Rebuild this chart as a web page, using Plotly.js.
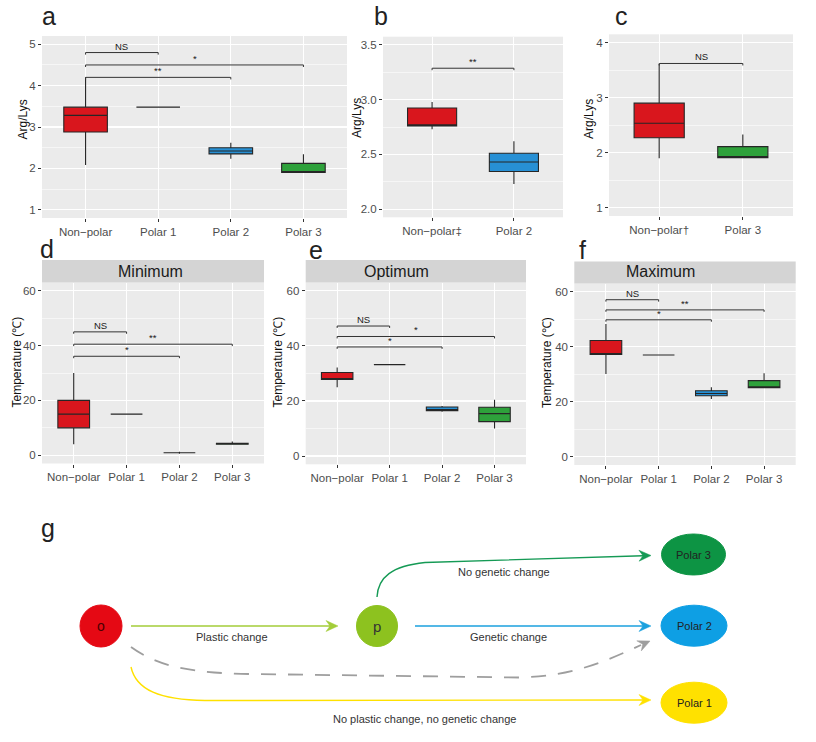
<!DOCTYPE html>
<html><head><meta charset="utf-8">
<script src="https://cdn.plot.ly/plotly-3.0.1.min.js"></script>
<style>html,body{margin:0;padding:0;background:#fff}#chart{width:816px;height:742px}</style>
</head><body><div id="chart"></div>
<script>
// ---------------- DATA ----------------
const catsA = ['Non\u2212polar','Polar 1','Polar 2','Polar 3'];
const catsB = ['Non\u2212polar\u2021','Polar 2'];
const catsC = ['Non\u2212polar\u2020','Polar 3'];
const catsT = ['Non\u2212polar','Polar 1','Polar 2','Polar 3'];
const groupsA = ['Non-polar','Polar 1','Polar 2','Polar 3'];
const groupsB = ['Non-polar','Polar 2'];
const groupsC = ['Non-polar','Polar 3'];

// a: Arg/Lys
const aQ1  = [2.88, 3.48, 2.35, 1.90];
const aMed = [3.28, 3.48, 2.42, 1.90];
const aQ3  = [3.48, 3.48, 2.50, 2.12];
const aLo  = [2.08, 3.48, 2.23, 1.90];
const aHi  = [4.20, 3.48, 2.62, 2.34];
// b
const bQ1  = [2.76, 2.343];
const bMed = [2.76, 2.43];
const bQ3  = [2.924, 2.51];
const bLo  = [2.73, 2.23];
const bHi  = [2.978, 2.62];
// c
const cQ1  = [2.27, 1.91];
const cMed = [2.535, 1.91];
const cQ3  = [2.90, 2.11];
const cLo  = [1.90, 1.91];
const cHi  = [3.61, 2.33];
// d: Minimum temperature
const dQ1  = [10, 15, 0.9, 4.0];
const dMed = [15, 15, 0.9, 4.1];
const dQ3  = [20, 15, 0.9, 4.4];
const dLo  = [4, 15, 0.6, 4.0];
const dHi  = [30, 15, 1.3, 5.0];
// e: Optimum temperature
const eQ1  = [27.8, 33.2, 16.5, 12.5];
const eMed = [28.0, 33.2, 16.8, 15.4];
const eQ3  = [30.3, 33.2, 17.8, 17.7];
const eLo  = [25.0, 33.2, 16.1, 10.0];
const eHi  = [32.1, 33.2, 18.2, 20.4];
// f: Maximum temperature
const fQ1  = [37.2, 37, 22.2, 25.1];
const fMed = [37.2, 37, 23.0, 25.1];
const fQ3  = [42.3, 37, 24.0, 27.7];
const fLo  = [30.1, 37, 21.0, 25.1];
const fHi  = [48.3, 37, 25.3, 30.4];

// significance brackets
const aSigFrom = [0,0,0], aSigTo = [1,3,2], aSigY = [4.80,4.50,4.20], aSigLab = ['NS','*','**'];
const bSigFrom = [0], bSigTo = [1], bSigY = [3.287], bSigLab = ['**'];
const cSigFrom = [0], cSigTo = [1], cSigY = [3.62], cSigLab = ['NS'];
const dSigFrom = [0,0,0], dSigTo = [1,3,2], dSigY = [45,40.5,36.1], dSigLab = ['NS','**','*'];
const eSigFrom = [0,0,0], eSigTo = [1,3,2], eSigY = [47.2,43.4,39.6], eSigLab = ['NS','*','*'];
const fSigFrom = [0,0,0], fSigTo = [1,3,2], fSigY = [57.1,53.4,49.8], fSigLab = ['NS','**','*'];

const stripLabels = ['Minimum','Optimum','Maximum'];
const yTitleArg = 'Arg/Lys';
const yTitleTemp = 'Temperature (\u2103)';

// diagram g
const nodeNames = ['o','p','Polar 3','Polar 2','Polar 1'];
const edgeLabels = ['Plastic change','Genetic change','No genetic change','No plastic change, no genetic change'];

// ---------------- STYLE ----------------
const groupFill = {'Non-polar':'#d9161d','Polar 1':'rgba(0,0,0,0)','Polar 2':'#2790d5','Polar 3':'#2ea13b'};
const FONT = 'Liberation Sans, Arial, sans-serif';
const W = 816, H = 742;
const px = v => v / W;
const py = v => 1 - v / H;

const traces = [];
const annotations = [];
const shapes = [];

// white cover for diagram area
shapes.push({type: 'rect', xref: 'paper', yref: 'paper', x0: 0, x1: 1, y0: 0, y1: py(498),
  fillcolor: '#ffffff', line: {width: 0}, layer: 'below'});

function addBoxes(ax, ay, groups, q1, med, q3, lo, hi) {
  groups.forEach((g, i) => {
    traces.push({
      type: 'box', xaxis: ax, yaxis: ay, x: [i],
      q1: [q1[i]], median: [med[i]], q3: [q3[i]], lowerfence: [lo[i]], upperfence: [hi[i]],
      fillcolor: groupFill[g], line: {color: '#262626', width: 1.1},
      whiskerwidth: 0, width: 0.6, boxpoints: false, showlegend: false, hoverinfo: 'skip'
    });
  });
}
function addSig(ax, ay, from, to, ys, labs, tip) {
  const xs = [], yv = [];
  from.forEach((f, i) => {
    xs.push(f, f, to[i], to[i], null);
    yv.push(ys[i] - tip, ys[i], ys[i], ys[i] - tip, null);
    annotations.push({xref: ax, yref: ay, x: (f + to[i]) / 2, y: ys[i], text: labs[i],
      showarrow: false, yanchor: 'bottom', yshift: -1,
      font: {family: FONT, size: 9.5, color: '#1a1a1a'}});
  });
  traces.push({type: 'scatter', mode: 'lines', xaxis: ax, yaxis: ay, x: xs, y: yv,
    line: {color: '#333', width: 1}, showlegend: false, hoverinfo: 'skip', connectgaps: false});
}

addBoxes('x', 'y', groupsA, aQ1, aMed, aQ3, aLo, aHi);
addBoxes('x2', 'y2', groupsB, bQ1, bMed, bQ3, bLo, bHi);
addBoxes('x3', 'y3', groupsC, cQ1, cMed, cQ3, cLo, cHi);
addBoxes('x4', 'y4', groupsA, dQ1, dMed, dQ3, dLo, dHi);
addBoxes('x5', 'y5', groupsA, eQ1, eMed, eQ3, eLo, eHi);
addBoxes('x6', 'y6', groupsA, fQ1, fMed, fQ3, fLo, fHi);
addSig('x', 'y', aSigFrom, aSigTo, aSigY, aSigLab, 0.05);
addSig('x2', 'y2', bSigFrom, bSigTo, bSigY, bSigLab, 0.018);
addSig('x3', 'y3', cSigFrom, cSigTo, cSigY, cSigLab, 0.036);
addSig('x4', 'y4', dSigFrom, dSigTo, dSigY, dSigLab, 0.7);
addSig('x5', 'y5', eSigFrom, eSigTo, eSigY, eSigLab, 0.7);
addSig('x6', 'y6', fSigFrom, fSigTo, fSigY, fSigLab, 0.7);

const common = {
  showgrid: true, gridcolor: '#ffffff', gridwidth: 1.1, zeroline: false, showline: false,
  ticks: 'outside', ticklen: 3, tickcolor: '#333', tickwidth: 1,
  tickfont: {family: FONT, size: 11.5, color: '#4d4d4d'}, fixedrange: true
};
function xAx(l, r, anchor, cats) {
  return Object.assign({}, common, {domain: [px(l), px(r)], anchor: anchor,
    range: [-0.6, cats.length - 0.4], tickvals: cats.map((c, i) => i), ticktext: cats});
}
function yAx(top, bot, anchor, range, dtick, tick0, fmt) {
  return Object.assign({}, common, {domain: [py(bot), py(top)], anchor: anchor, range: range,
    dtick: dtick, tick0: tick0, tickformat: fmt || '',
    minor: {dtick: dtick / 2, tick0: tick0 - dtick / 2, showgrid: true, gridcolor: '#ffffff', gridwidth: 0.55, ticks: ''}});
}

const layout = {
  width: W, height: H, margin: {l: 0, r: 0, t: 0, b: 0},
  paper_bgcolor: '#ffffff', plot_bgcolor: '#ebebeb', showlegend: false,
  font: {family: FONT},
  boxmode: 'overlay',
  xaxis: xAx(42, 347, 'y', catsA),
  yaxis: yAx(36, 218, 'x', [0.8, 5.2], 1, 1),
  xaxis2: xAx(383, 563, 'y2', catsB),
  yaxis2: yAx(36.7, 217.3, 'x2', [1.925, 3.575], 0.5, 2, '.1f'),
  xaxis3: xAx(609, 793, 'y3', catsC),
  yaxis3: yAx(34.3, 216, 'x3', [0.85, 4.15], 1, 1),
  xaxis4: xAx(42, 264, 'y4', catsT),
  yaxis4: yAx(282.5, 463.5, 'x4', [-3, 63], 20, 0),
  xaxis5: xAx(305.7, 526, 'y5', catsT),
  yaxis5: yAx(282.5, 464.3, 'x5', [-3, 63], 20, 0),
  xaxis6: xAx(574.3, 795.7, 'y6', catsT),
  yaxis6: yAx(283.5, 465, 'x6', [-3, 63], 20, 0),
  xaxis7: {domain: [0, 1], range: [0, W], visible: false, showgrid: false, fixedrange: true, anchor: 'y7'},
  yaxis7: {domain: [0, py(500)], range: [H, 500], visible: false, showgrid: false, fixedrange: true, anchor: 'x7'},
  annotations: annotations, shapes: shapes
};

// strips
[[42, 264, 260, 282.5], [305.7, 526, 260, 282.5], [574.3, 795.7, 261.5, 283.5]].forEach((s, i) => {
  shapes.push({type: 'rect', xref: 'paper', yref: 'paper', x0: px(s[0]), x1: px(s[1]), y0: py(s[3]), y1: py(s[2]),
    fillcolor: '#d4d4d4', line: {width: 0}, layer: 'below'});
});
[[150, 272], [396.7, 271.5], [660.8, 271.5]].forEach((p, i) => {
  annotations.push({xref: 'paper', yref: 'paper', x: px(p[0]), y: py(p[1]), text: stripLabels[i],
    showarrow: false, xanchor: 'center', yanchor: 'middle', font: {family: FONT, size: 16, color: '#1a1a1a'}});
});
// axis titles
[[22.5, 120, yTitleArg], [357, 118, yTitleArg], [589, 119, yTitleArg],
 [16, 362.5, yTitleTemp], [277.5, 362, yTitleTemp], [547, 363, yTitleTemp]].forEach(t => {
  annotations.push({xref: 'paper', yref: 'paper', x: px(t[0]), y: py(t[1]), text: t[2], textangle: -90,
    showarrow: false, xanchor: 'center', yanchor: 'middle', font: {family: FONT, size: 12, color: '#111'}});
});
// panel letters
[['a', 49, 16], ['b', 381, 16], ['c', 621, 15.5], ['d', 47, 249], ['e', 316, 250], ['f', 582, 250], ['g', 47.5, 528]].forEach(t => {
  annotations.push({xref: 'paper', yref: 'paper', x: px(t[1]), y: py(t[2]), text: t[0],
    showarrow: false, xanchor: 'center', yanchor: 'middle', font: {family: FONT, size: 25, color: '#222'}});
});

// ---------------- DIAGRAM g ----------------
const nodeGeom = [ // cx, cy, rx, ry, fill, label color, label size
  [101, 626, 21, 21, '#e50914', '#4a0000', 14],
  [377, 626, 20.5, 20.5, '#8dc21f', '#333', 15],
  [693.5, 554.5, 32, 20.5, '#0d9444', '#222', 11],
  [694, 625.7, 33, 20.5, '#0e9fe4', '#222', 11],
  [694, 702.7, 33, 20.5, '#ffe100', '#222', 11]
];
nodeNames.forEach((n, i) => {
  const g = nodeGeom[i];
  shapes.push({type: 'circle', xref: 'x7', yref: 'y7', x0: g[0] - g[2], x1: g[0] + g[2], y0: g[1] - g[3], y1: g[1] + g[3],
    fillcolor: g[4], line: {color: g[4], width: 1}});
  annotations.push({xref: 'x7', yref: 'y7', x: g[0], y: g[1], text: n, showarrow: false,
    font: {family: FONT, size: g[6], color: g[5]}});
});
function head(tx, ty, angDeg, color) {
  const a = angDeg * Math.PI / 180, c = Math.cos(a), s = Math.sin(a);
  const pt = (bx, by) => (tx + bx * c - by * s).toFixed(2) + ',' + (ty + bx * s + by * c).toFixed(2);
  return {type: 'path', xref: 'x7', yref: 'y7', path: 'M' + pt(0, 0) + ' L' + pt(-12, -5.5) + ' L' + pt(-8, 0) + ' L' + pt(-12, 5.5) + ' Z',
    fillcolor: color, line: {color: color, width: 0.5}};
}
const edges = [ // path, color, dash, tip, angle
  ['M131,626 L330,626', '#a3cd39', 'solid', [338, 626], 0],
  ['M415,626 L643,626', '#1ba1de', 'solid', [651, 626], 0],
  ['M377,597 C378,577 392,566 425,562.5 L643,555.7', '#159a55', 'solid', [651, 555.5], -1],
  ['M131,647 C160,668 195,673 250,674 L520,677.5 C570,676 600,664 641,645', '#9e9e9e', '15px,12px', [650, 641], -24],
  ['M131,667 C136,690 160,700 205,700.5 L643,700', '#ffe100', 'solid', [651, 700], 0]
];
edges.forEach(e => {
  shapes.push({type: 'path', xref: 'x7', yref: 'y7', path: e[0], line: {color: e[1], width: e[2] === 'solid' ? 1.4 : 1.8, dash: e[2]}});
  shapes.push(head(e[3][0], e[3][1], e[4], e[1]));
});
[[231.7, 636.7], [508, 636.7], [503.8, 572.3], [424.7, 719.3]].forEach((p, i) => {
  annotations.push({xref: 'x7', yref: 'y7', x: p[0], y: p[1], text: edgeLabels[i], showarrow: false,
    font: {family: FONT, size: 11, color: '#333'}});
});

Plotly.newPlot('chart', traces, layout, {staticPlot: true});
</script></body></html>
